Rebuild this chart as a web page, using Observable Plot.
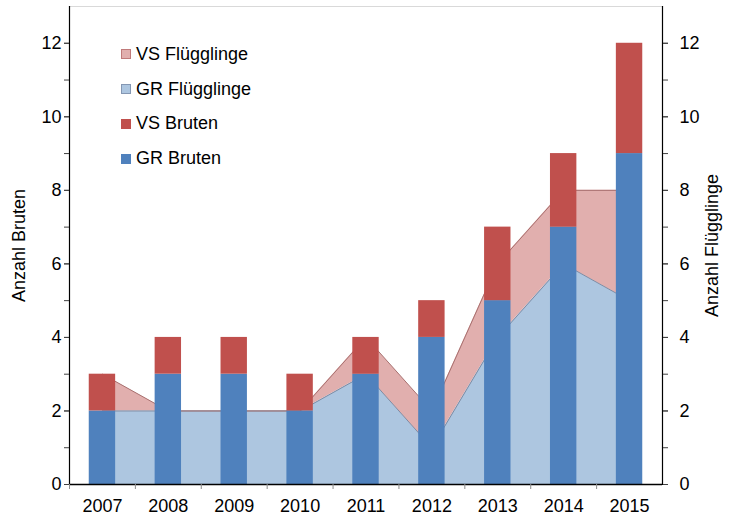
<!DOCTYPE html>
<html>
<head>
<meta charset="utf-8">
<script src="https://cdn.jsdelivr.net/npm/d3@7"></script>
<script src="https://cdn.jsdelivr.net/npm/@observablehq/plot@0.6"></script>
<style>
  html, body { margin: 0; padding: 0; background: #fff; }
  #wrap { position: relative; width: 729px; height: 518px; font-family: "Liberation Sans", Arial, sans-serif; }
  #legend { position: absolute; left: 121px; top: 37px; font-size: 18px; color: #000; }
  .item { display: flex; align-items: center; height: 34.8px; }
  .sw { width: 10px; height: 10px; box-sizing: border-box; margin-right: 5px; }
</style>
</head>
<body>
<div id="wrap"><div id="legend"></div></div>
<script>
// ---- data ----
const years = ["2007", "2008", "2009", "2010", "2011", "2012", "2013", "2014", "2015"];
const grBruten = [2, 3, 3, 2, 3, 4, 5, 7, 9];
const vsBruten = [1, 1, 1, 1, 1, 1, 2, 2, 3];
const grFlug = [2, 2, 2, 2, 3, 1, 4, 6, 5];
const vsFlug = [1, 0, 0, 0, 1, 1, 2, 2, 3];
const yTicks = [0, 2, 4, 6, 8, 10, 12];
const yMinorTicks = [0, 1, 2, 3, 4, 5, 6, 7, 8, 9, 10, 11, 12];
const seriesNames = ["GR Bruten", "VS Bruten", "GR Flügglinge", "VS Flügglinge"];
const legendOrder = ["VS Flügglinge", "GR Flügglinge", "VS Bruten", "GR Bruten"];
const yTitleLeft = "Anzahl Bruten";
const yTitleRight = "Anzahl Flügglinge";

// ---- styles ----
const fills = {
  "GR Bruten": "#4f81bd",
  "VS Bruten": "#c0504d",
  "GR Flügglinge": "#adc6e0",
  "VS Flügglinge": "#e1afae"
};
const strokes = {
  "GR Flügglinge": "#7d8ba3",
  "VS Flügglinge": "#a8706f"
};
const borders = {
  "GR Flügglinge": "#8497b3",
  "VS Flügglinge": "#c07a7a"
};

const bruten = years.flatMap((y, i) => [
  {year: y, series: seriesNames[0], value: grBruten[i]},
  {year: y, series: seriesNames[1], value: vsBruten[i]}
]);
const flug = years.flatMap((y, i) => [
  {year: y, series: seriesNames[2], value: grFlug[i]},
  {year: y, series: seriesNames[3], value: vsFlug[i]}
]);

const W = 729, H = 518, mL = 69, mR = 67, mT = 6, mB = 34;
const bw = (W - mL - mR) / years.length;
const barW = 26.4;
const inset = (bw - barW) / 2;
const font = "'Liberation Sans', Arial, sans-serif";

const chart = Plot.plot({
  width: W, height: H,
  marginLeft: mL, marginRight: mR, marginTop: mT, marginBottom: mB,
  style: {fontFamily: font, fontSize: "18px", color: "#000", background: "transparent", overflow: "visible"},
  x: {type: "band", domain: years, padding: 0, round: false, axis: null, label: null},
  y: {domain: [0, 13], axis: null, label: null},
  marks: [
    Plot.frame({anchor: "top", stroke: "#d9d9d9", strokeWidth: 1.2}),
    Plot.areaY(flug, Plot.stackY({x: "year", y: "value", z: "series", fill: d => fills[d.series]})),
    Plot.lineY(flug, Plot.stackY2({x: "year", y: "value", z: "series", stroke: d => strokes[d.series], strokeWidth: 1})),
    Plot.barY(bruten, Plot.stackY({x: "year", y: "value", z: "series", fill: d => fills[d.series], insetLeft: inset, insetRight: inset})),
    // axes lines
    Plot.frame({anchor: "left", stroke: "#000", strokeWidth: 1.2}),
    Plot.frame({anchor: "right", stroke: "#000", strokeWidth: 1.2}),
    Plot.ruleY([0], {stroke: "#000", strokeWidth: 1.4}),
    // y ticks left
    Plot.axisY({anchor: "left", ticks: yMinorTicks, tickSize: 5, tickFormat: () => "", stroke: "#404040", label: null}),
    Plot.axisY({anchor: "left", ticks: yTicks, tickSize: 5, tickPadding: 3, fontSize: 18, stroke: "#404040", fill: "#000", label: null}),
    // y ticks right
    Plot.axisY({anchor: "right", ticks: yMinorTicks, tickSize: 5, tickFormat: () => "", stroke: "#404040", label: null}),
    Plot.axisY({anchor: "right", ticks: yTicks, tickSize: 5, tickPadding: 12, fontSize: 18, stroke: "#404040", fill: "#000", label: null}),
    // x ticks at band boundaries
    Plot.axisX({ticks: years, tickSize: 5, tickFormat: () => "", stroke: "#8c8c8c", dx: -bw / 2, label: null}),
    Plot.axisX({ticks: years, tickSize: 0, tickPadding: 15, fontSize: 18, fill: "#000", label: null}),
    // axis titles
    Plot.text([yTitleLeft], {frameAnchor: "left", textAnchor: "middle", rotate: -90, dx: -50.5, fontSize: 18, fill: "#000"}),
    Plot.text([yTitleRight], {frameAnchor: "right", textAnchor: "middle", rotate: -90, dx: 50, fontSize: 18, fill: "#000"})
  ]
});
document.getElementById("wrap").prepend(chart);

// legend
const legend = document.getElementById("legend");
for (const name of legendOrder) {
  const item = document.createElement("div");
  item.className = "item";
  const sw = document.createElement("div");
  sw.className = "sw";
  sw.style.background = fills[name];
  if (borders[name]) sw.style.border = `1px solid ${borders[name]}`;
  const t = document.createElement("span");
  t.textContent = name;
  item.append(sw, t);
  legend.append(item);
}
</script>
</body>
</html>
